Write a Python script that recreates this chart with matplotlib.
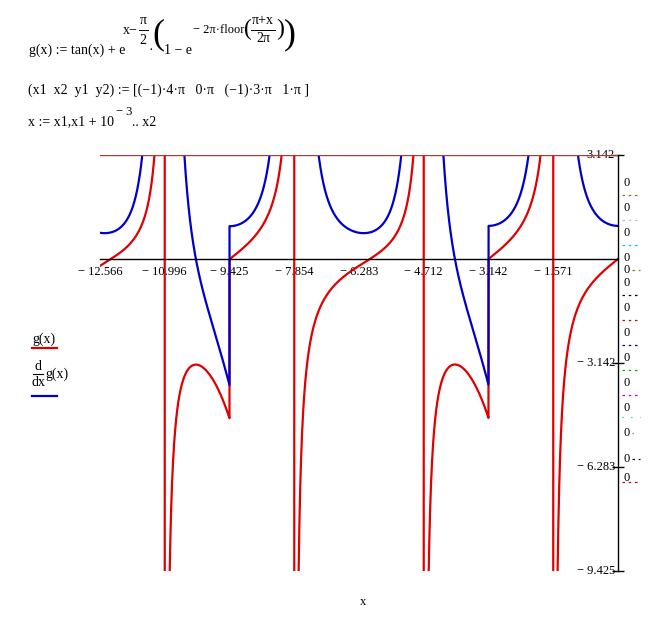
import numpy as np
import matplotlib
matplotlib.use("Agg")
import matplotlib.pyplot as plt
import matplotlib.transforms as mtransforms
from matplotlib.lines import Line2D

plt.rcParams['font.family'] = ['Liberation Serif', 'DejaVu Serif']

W, H = 667, 627
PI = np.pi

# range from the worksheet: (x1 x2 y1 y2) := [-4pi 0pi -3pi 1pi]
x1, x2, y1, y2 = -4 * PI, 0 * PI, -3 * PI, 1 * PI
step = 1e-3

x_ticks = np.arange(-8, 1) * PI / 2
x_marks = np.array([-4, -2, 0]) * PI
y_ticks = np.array([1, -1, -2, -3]) * PI

red = '#e00000'
blue = '#0000cc'

# markers listed at the right of the plot ("0" labels and their dotted lines)
zero_label_y = [183, 208, 233, 258, 270, 283, 308, 333, 358, 383, 408, 433, 459, 478]
marker_y = [195, 220, 245, 270, 295, 320, 345, 370, 395, 417, 433, 459, 482]
marker_colors = ['#8b7a00', '#c0c0c0', '#00c8d8', '#8b7a00', '#000000', '#d00000',
                 '#000080', '#00b000', '#c000c0', '#00c8d8', '#8b7a00', '#000000', '#d00000']
marker_styles = [(0, (2, 3))] * 9 + [(0, (1, 6)), (0, (1, 6)), (0, (2, 3)), (0, (2, 3))]


def g(x):
    k = np.floor((PI + x) / (2 * PI))
    return np.tan(x) + np.exp(x - PI / 2) * (1 - np.exp(-2 * PI * k))


def dg(x):
    k = np.floor((PI + x) / (2 * PI))
    return 1 / np.cos(x) ** 2 + np.exp(x - PI / 2) * (1 - np.exp(-2 * PI * k))


def fmt(v):
    if abs(v) < 1e-9:
        return '0'
    if v < 0:
        return '\u2212 %.3f' % abs(v)
    return '%.3f' % v


def px(x, y):
    return x / W, 1 - y / H


x = np.arange(x1, x2 + step / 2, step)
gy = np.clip(g(x), -1e3, 1e3)
dy = np.clip(dg(x), -1e3, 1e3)

fig = plt.figure(figsize=(W / 100, H / 100), dpi=100)
ax = fig.add_axes([100 / W, (H - 571) / H, 518 / W, 416 / H])

ax.plot(x, gy, color=red, lw=1.6)
ax.plot(x, dy, color=blue, lw=1.6)
ax.axhline(y2, color='#b03a2e', lw=1.0, zorder=5)

ax.set_xlim(x1, x2)
ax.set_ylim(y1, y2)
for s in ('left', 'top'):
    ax.spines[s].set_visible(False)
ax.spines['bottom'].set_position(('data', 0))
ax.spines['bottom'].set_linewidth(1.0)
ax.spines['right'].set_linewidth(1.0)

ax.set_xticks(x_ticks)
ax.set_xticklabels([fmt(v) if v < -1e-9 else '' for v in x_ticks], fontsize=9)
ax.set_xticks(x_marks, minor=True)
ax.tick_params(axis='x', which='major', length=0, pad=5)
ax.tick_params(axis='x', which='minor', length=8, direction='inout', width=1)

ax.yaxis.tick_right()
ax.set_yticks(y_ticks)
ax.set_yticklabels([])
ax.tick_params(axis='y', length=8, direction='inout', width=1)
trans = mtransforms.blended_transform_factory(ax.transAxes, ax.transData)
for v in y_ticks:
    ax.text(1 - 3 / 518, v, fmt(v), transform=trans, ha='right', va='center', fontsize=9)

fig.text(*px(363, 602), 'x', fontsize=9, ha='center', va='center')

# legend
fig.text(*px(32, 339), 'g(x)', fontsize=10, va='center')
fig.add_artist(Line2D([32 / W, 57 / W], [1 - 348 / H] * 2, color=red, lw=1.6))
fig.text(*px(38, 366), 'd', fontsize=10, ha='center', va='center')
fig.add_artist(Line2D([33 / W, 43 / W], [1 - 374 / H] * 2, color='black', lw=0.8))
fig.text(*px(39, 383), 'dx', fontsize=10, ha='center', va='center')
fig.text(*px(45, 374), 'g(x)', fontsize=10, va='center')
fig.add_artist(Line2D([32 / W, 57 / W], [1 - 396 / H] * 2, color=blue, lw=1.6))

# right side markers
for yy in zero_label_y:
    fig.text(*px(624, yy), '0', fontsize=9, va='center')
for yy, c, ls in zip(marker_y, marker_colors, marker_styles):
    x0 = 632 if yy in zero_label_y else 622
    fig.add_artist(Line2D([x0 / W, 640 / W], [1 - yy / H] * 2, color=c, lw=0.9, ls=ls))


# worksheet formulas
def put(xp, yp, s, fs, ha='left'):
    fig.text(*px(xp, yp), s, fontsize=fs, ha=ha, va='center')


def frac(xc, ytop, ybot, top, bot, fs, w):
    put(xc, ytop, top, fs, ha='center')
    put(xc, ybot, bot, fs, ha='center')
    ym = 1 - (ytop + ybot) / 2 / H
    fig.add_artist(Line2D([(xc - w / 2) / W, (xc + w / 2) / W], [ym] * 2,
                          color='black', lw=0.7))


put(29, 50, 'g(x) := tan(x) + e', 10)
put(123, 31, 'x\u2212', 10)
frac(143, 20, 40, '\u03c0', '2', 10, 9)
put(148, 50, '\u00b7', 10)
put(152, 35, '(', 26)
put(164, 50, '1 \u2212 e', 10)
put(193, 30, '\u2212 2\u03c0\u00b7floor', 9)
put(244, 29, '(', 17)
frac(263, 20, 39, '\u03c0+x', '2\u03c0', 10, 24)
put(276, 29, ')', 17)
put(284, 35, ')', 26)

put(28, 90, '(x1  x2  y1  y2) := [(\u22121)\u00b74\u00b7\u03c0   0\u00b7\u03c0   '
    '(\u22121)\u00b73\u00b7\u03c0   1\u00b7\u03c0 ]', 10)

put(28, 122, 'x := x1,x1 + 10', 10)
put(116, 112, '\u2212 3', 9)
put(132, 123, '.. x2', 10)

fig.savefig('out.png', dpi=100)
